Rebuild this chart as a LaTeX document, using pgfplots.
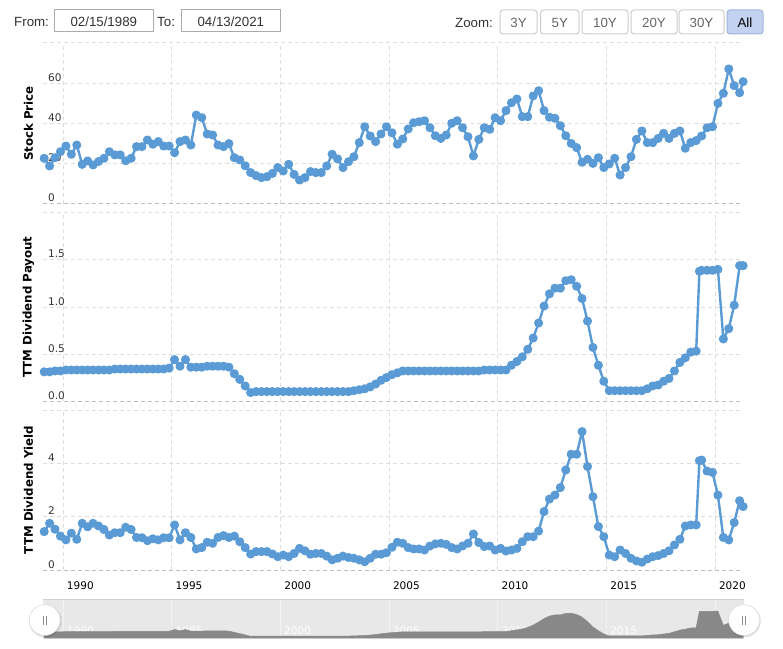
\documentclass[border=0pt]{standalone}
\usepackage{pgfplots}
\pgfplotsset{compat=1.18}
\usepackage{pgfplotstable}
\usepackage{fontspec}
\usetikzlibrary{shadows}
\newfontfamily\dv{DejaVu Sans}
\newfontfamily\lib{Liberation Sans}
\definecolor{series}{RGB}{91,155,213}
\definecolor{gridc}{RGB}{221,221,221}
\definecolor{zeroc}{RGB}{190,190,190}
\definecolor{tickc}{RGB}{51,51,51}
\definecolor{navbg}{RGB}{232,232,232}
\definecolor{navgray}{RGB}{136,136,136}
\definecolor{navgrid}{RGB}{242,242,242}
\definecolor{navborder}{RGB}{208,208,208}
\definecolor{boxc}{RGB}{170,170,170}
\definecolor{btnborder}{RGB}{204,204,204}
\definecolor{btntext}{RGB}{102,102,102}
\definecolor{selfill}{RGB}{194,210,240}
\definecolor{selborder}{RGB}{160,180,216}
\newcommand\tickfont{\dv\fontsize{10.5pt}{12pt}\selectfont}
\newcommand\titlefont{\dv\bfseries\fontsize{11.8pt}{13pt}\selectfont}
\newcommand\barfont{\lib\fontsize{13.3pt}{15pt}\selectfont}

\pgfplotstableread{
t price payout yield
1989.12 22.7 0.31 1.44
1989.37 18.9 0.31 1.75
1989.62 23.0 0.32 1.53
1989.87 26.0 0.32 1.27
1990.12 28.8 0.33 1.13
1990.37 24.7 0.33 1.38
1990.62 29.3 0.33 1.15
1990.87 19.7 0.33 1.75
1991.12 21.4 0.33 1.62
1991.37 19.4 0.33 1.75
1991.62 21.1 0.33 1.65
1991.87 22.7 0.33 1.52
1992.12 26.0 0.33 1.31
1992.37 24.4 0.34 1.40
1992.62 24.4 0.34 1.40
1992.87 21.5 0.34 1.60
1993.12 22.7 0.34 1.52
1993.37 28.5 0.34 1.22
1993.62 28.5 0.34 1.21
1993.87 31.8 0.34 1.10
1994.12 29.7 0.34 1.17
1994.37 31.0 0.34 1.13
1994.62 28.8 0.34 1.21
1994.87 28.8 0.35 1.21
1995.12 25.5 0.44 1.69
1995.37 31.0 0.37 1.13
1995.62 31.8 0.44 1.40
1995.87 29.3 0.36 1.22
1996.12 44.2 0.36 0.79
1996.37 42.9 0.36 0.84
1996.62 34.8 0.37 1.04
1996.87 34.3 0.37 1.00
1997.12 29.3 0.37 1.22
1997.37 28.5 0.37 1.29
1997.62 30.0 0.36 1.22
1997.87 23.0 0.29 1.27
1998.12 21.9 0.23 1.06
1998.37 19.0 0.16 0.84
1998.62 15.6 0.09 0.60
1998.87 14.1 0.10 0.69
1999.12 13.1 0.10 0.69
1999.37 13.6 0.10 0.69
1999.62 15.2 0.10 0.60
1999.87 18.1 0.10 0.50
2000.12 16.4 0.10 0.56
2000.37 19.7 0.10 0.50
2000.62 14.7 0.10 0.62
2000.87 11.9 0.10 0.81
2001.12 13.1 0.10 0.72
2001.37 16.1 0.10 0.59
2001.62 15.6 0.10 0.62
2001.87 15.6 0.10 0.62
2002.12 18.9 0.10 0.52
2002.37 24.7 0.10 0.38
2002.62 22.4 0.10 0.44
2002.87 18.1 0.10 0.52
2003.12 21.0 0.10 0.47
2003.37 23.5 0.11 0.44
2003.62 30.5 0.12 0.38
2003.87 38.4 0.13 0.31
2004.12 33.8 0.15 0.44
2004.37 31.0 0.18 0.59
2004.62 34.8 0.22 0.59
2004.87 38.4 0.25 0.65
2005.12 35.4 0.28 0.85
2005.37 29.7 0.30 1.04
2005.62 32.3 0.32 1.00
2005.87 37.3 0.32 0.84
2006.12 40.4 0.32 0.79
2006.37 40.9 0.32 0.79
2006.62 41.4 0.32 0.75
2006.87 37.9 0.32 0.90
2007.12 33.9 0.32 0.98
2007.37 32.6 0.32 1.00
2007.62 34.3 0.32 0.96
2007.87 40.1 0.32 0.84
2008.12 41.4 0.32 0.79
2008.37 37.9 0.32 0.90
2008.62 33.4 0.32 1.00
2008.87 23.9 0.32 1.35
2009.12 32.1 0.32 1.03
2009.37 37.9 0.33 0.88
2009.62 37.1 0.33 0.90
2009.87 42.9 0.33 0.75
2010.12 41.4 0.33 0.81
2010.37 46.4 0.33 0.71
2010.62 50.3 0.38 0.75
2010.87 52.2 0.42 0.81
2011.12 43.4 0.47 1.06
2011.37 43.4 0.55 1.25
2011.62 53.7 0.67 1.25
2011.87 56.3 0.83 1.46
2012.12 46.4 1.01 2.19
2012.37 43.1 1.14 2.66
2012.62 42.6 1.20 2.81
2012.87 38.9 1.20 3.09
2013.12 33.9 1.28 3.75
2013.37 30.1 1.29 4.34
2013.62 28.0 1.22 4.34
2013.87 20.7 1.09 5.19
2014.12 22.2 0.85 3.88
2014.37 20.2 0.57 2.75
2014.62 23.0 0.38 1.63
2014.87 18.1 0.21 1.25
2015.12 19.9 0.11 0.56
2015.37 22.7 0.11 0.50
2015.62 14.4 0.11 0.75
2015.87 18.1 0.11 0.62
2016.12 23.5 0.11 0.44
2016.37 32.1 0.11 0.34
2016.62 36.3 0.11 0.29
2016.87 30.5 0.13 0.41
2017.12 30.5 0.16 0.50
2017.37 32.6 0.17 0.54
2017.62 35.1 0.21 0.62
2017.87 32.6 0.24 0.72
2018.12 35.1 0.32 0.94
2018.37 36.3 0.41 1.15
2018.62 27.7 0.46 1.65
2018.87 30.5 0.52 1.69
2019.12 31.5 0.53 1.69
2019.27 nan 1.38 4.10
2019.37 33.8 1.39 4.12
2019.62 37.9 1.39 3.71
2019.87 38.4 1.39 3.66
2020.12 50.0 1.40 2.81
2020.37 55.0 0.66 1.22
2020.62 67.1 0.77 1.13
2020.87 58.8 1.02 1.78
2021.12 55.3 1.44 2.60
2021.28 60.8 1.44 2.38
}\data

\pgfplotsset{
  panel/.style={
    scale only axis, width=697pt,
    xmin=1989.066, xmax=2021.137,
    xtick={1990,1995,2000,2005,2010,2015,2020},
    grid=major,
    major grid style={gridc, dash pattern=on 4pt off 3pt, line width=1pt},
    axis line style={draw=none},
    major tick length=0pt,
    tick style={draw=none},
    clip=false,
    yticklabel style={font=\tickfont, text=tickc, anchor=base west, inner sep=0pt, xshift=5pt, yshift=2pt},
    extra y ticks={0}, extra y tick labels={},
    extra y tick style={grid=major, major grid style={zeroc, dash pattern=on 4pt off 3pt, line width=1pt}},
    every axis y label/.style={at={(axis description cs:-0.0208,0.5)}, rotate=90, anchor=center, font=\titlefont, text=black},
  },
  series/.style={color=series, line width=2.4pt, line join=round, mark=*, mark size=3.3pt, mark options={draw=none, fill=series}},
}

\begin{document}
\begin{tikzpicture}
\path[use as bounding box, fill=white] (0,0) rectangle (783pt,648pt);

% top bar
\node[anchor=west, font=\barfont, text=tickc, inner sep=0pt] at (14pt,626.3pt) {From:};
\draw[boxc, line width=1pt] (54.5pt,616pt) rectangle (153pt,638.5pt);
\node[font=\barfont, text=tickc, inner sep=0pt] at (103.8pt,626.3pt) {02/15/1989};
\node[anchor=west, font=\barfont, text=tickc, inner sep=0pt] at (157pt,626.3pt) {To:};
\draw[boxc, line width=1pt] (181.5pt,616pt) rectangle (280pt,638.5pt);
\node[font=\barfont, text=tickc, inner sep=0pt] at (230.8pt,626.3pt) {04/13/2021};
\node[anchor=west, font=\barfont, text=tickc, inner sep=0pt] at (455pt,625.5pt) {Zoom:};
\foreach \a/\b/\lab in {500/537/3Y, 540.5/579/5Y, 582/628/10Y, 631/677/20Y, 679/724/30Y}{
  \draw[btnborder, fill=white, rounded corners=3pt, line width=1pt] (\a pt,614pt) rectangle (\b pt,638pt);
  \node[font=\barfont, text=btntext, inner sep=0pt] at ({(\a+\b)/2*1pt},625.5pt) {\lab};
}
\draw[selborder, fill=selfill, rounded corners=3pt, line width=1pt] (727pt,614pt) rectangle (763pt,638pt);
\node[font=\barfont, text=black, inner sep=0pt] at (745pt,625.5pt) {All};

% panel 1
\begin{axis}[panel, at={(43pt,444pt)}, anchor=south west, height=161pt,
  ymin=0, ymax=80, ytick={0,20,40,60,80}, yticklabels={0,20,40,60,{}},
  xticklabels={}, ylabel={Stock Price}]
\addplot[series] table[x=t, y=price] {\data};
\end{axis}

% panel 2
\begin{axis}[panel, at={(43pt,247pt)}, anchor=south west, height=188pt,
  ymin=0, ymax=2, ytick={0,0.5,1,1.5,2}, yticklabels={0.0,0.5,1.0,1.5,{}},
  xticklabels={}, ylabel={TTM Dividend Payout}]
\addplot[series] table[x=t, y=payout] {\data};
\end{axis}

% panel 3
\begin{axis}[panel, at={(43pt,78pt)}, anchor=south west, height=160pt,
  ymin=0, ymax=6, ytick={0,2,4,6}, yticklabels={0,2,4,{}},
  xticklabels={1990,1995,2000,2005,2010,2015,2020},
  xticklabel style={font=\tickfont, text=black, anchor=base west, inner sep=0pt, xshift=3.5pt, yshift=-19pt},
  ylabel={TTM Dividend Yield}]
\addplot[series] table[x=t, y=yield] {\data};
\end{axis}

% navigator
\begin{axis}[scale only axis, width=700.5pt, height=39pt, at={(43pt,10pt)}, anchor=south west,
  xmin=1989.066, xmax=2021.3, ymin=0, ymax=2.03,
  axis line style={draw=none}, tick style={draw=none}, major tick length=0pt,
  ytick=\empty,
  xtick={1990,1995,2000,2005,2010,2015,2020},
  xticklabels={1990,1995,2000,2005,2010,2015,2020},
  xticklabel style={font=\tickfont, text=white, anchor=base west, inner sep=0pt, xshift=3.5pt, yshift=4pt},
  xmajorgrids, major grid style={navgrid, line width=1pt},
  axis background/.style={fill=navbg},
  clip=true]
\addplot[fill=navgray, draw=navgray, line width=0.5pt] table[x=t, y=payout] {\data} \closedcycle;
\draw[navborder, line width=1pt] (rel axis cs:0,1) -- (rel axis cs:1,1);
\end{axis}

% handles
\foreach \hx in {44.7, 744}{
  \fill[black, opacity=0.12] (\hx pt+0.5pt, 27pt) circle (16.3pt);
  \draw[fill=white, draw=black!12, line width=0.6pt] (\hx pt, 28pt) circle (15.4pt);
  \draw[black!45, line width=0.8pt] (\hx pt-1.4pt, 23.5pt) -- (\hx pt-1.4pt, 32.5pt);
  \draw[black!45, line width=0.8pt] (\hx pt+1.4pt, 23.5pt) -- (\hx pt+1.4pt, 32.5pt);
}
\end{tikzpicture}
\end{document}
